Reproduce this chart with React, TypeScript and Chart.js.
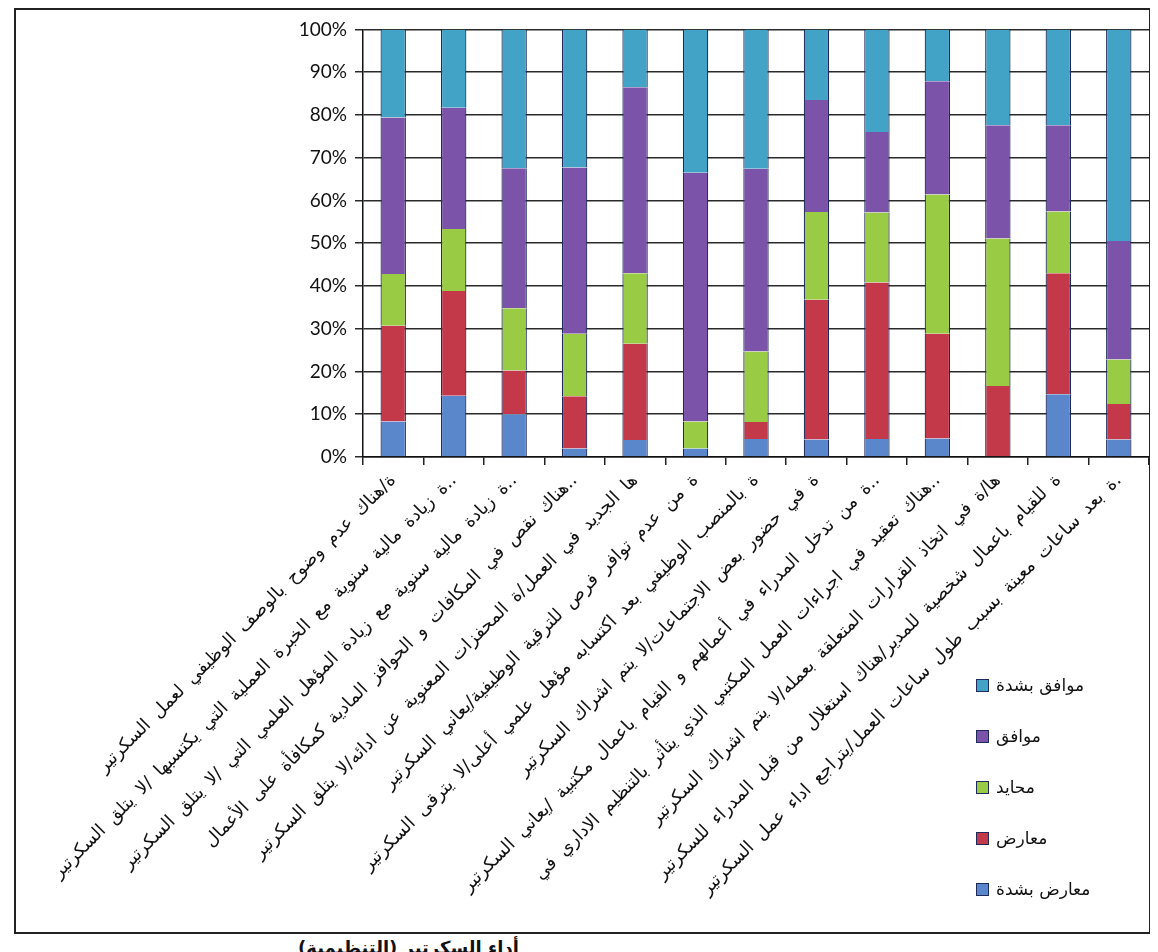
import React, { useEffect, useRef } from "react";
import { Chart, registerables } from "chart.js";

Chart.register(...registerables);

const categories: string[] = [
  "ة/هناك عدم وضوح بالوصف الوظيفي لعمل السكرتير",
  "..ة زيادة مالية سنوية مع الخبرة العملية التي يكتسبها /لا يتلق السكرتير",
  "..ة زيادة مالية سنوية مع زيادة المؤهل العلمي التي /لا يتلق السكرتير",
  "..هناك نقص في المكافات و الحوافز المادية كمكافأة على الأعمال",
  "ها الجديد في العمل/ة المحفزات المعنوية عن ادائه/لا يتلق السكرتير",
  "ة من عدم توافر فرص للترقية الوظيفية/يعاني السكرتير",
  "ة بالمنصب الوظيفي بعد اكتسابه مؤهل علمي أعلى/لا يترقى السكرتير",
  "ة في حضور بعض الاجتماعات/لا يتم اشراك السكرتير",
  "..ة من تدخل المدراء في أعمالهم و القيام باعمال مكتبية /يعاني السكرتير",
  "..هناك تعقيد في اجراءات العمل المكتبي الذي يتأثر بالتنظيم الاداري في",
  "ها/ة في اتخاذ القرارات المتعلقة بعمله/لا يتم اشراك السكرتير",
  "ة للقيام باعمال شخصية للمدير/هناك استغلال من قبل المدراء للسكرتير",
  ".ة بعد ساعات معينة بسبب طول ساعات العمل/يتراجع اداء عمل السكرتير",
];

const stronglyDisagree = [8.3, 14.3, 10, 2, 4, 2, 4.2, 4.1, 4.2, 4.3, 0, 14.7, 4.1];
const disagree = [22.4, 24.5, 10.2, 12.2, 22.5, 0, 4, 32.7, 36.6, 24.5, 16.6, 28.3, 8.3];
const neutral = [12.1, 14.5, 14.6, 14.6, 16.5, 6.3, 16.5, 20.5, 16.4, 32.6, 34.5, 14.4, 10.4];
const agree = [36.6, 28.4, 32.7, 38.9, 43.5, 58.2, 42.7, 26.2, 18.8, 26.5, 26.5, 20.2, 27.7];
const stronglyAgree = [20.6, 18.3, 32.5, 32.3, 13.5, 33.5, 32.6, 16.5, 24, 12.1, 22.4, 22.4, 49.5];

const seriesNames = ["معارض بشدة", "معارض", "محايد", "موافق", "موافق بشدة"];
const seriesColors = ["#5A86CC", "#C4394A", "#9ACB45", "#7B53A8", "#42A3C6"];
const yTickValues = [0, 10, 20, 30, 40, 50, 60, 70, 80, 90, 100];
const caption = "أداء السكرتير (التنظيمية)";

const rtlText = {
  id: "rtlText",
  beforeDraw(chart: any) {
    chart.ctx.direction = "rtl";
    chart.ctx.wordSpacing = "4px";
  },
};

export default function App() {
  const ref = useRef<HTMLCanvasElement>(null);

  useEffect(() => {
    const seriesData = [stronglyDisagree, disagree, neutral, agree, stronglyAgree];
    const chart = new Chart(ref.current as HTMLCanvasElement, {
      type: "bar",
      data: {
        labels: categories,
        datasets: seriesData.map((d, i) => ({
          label: seriesNames[i],
          data: d,
          backgroundColor: seriesColors[i],
          borderColor: "#1e2a5c",
          borderWidth: { left: 1.2, right: 1.2, top: 0, bottom: 0 },
          borderSkipped: false,
          barPercentage: 0.42,
          categoryPercentage: 1,
        })),
      },
      options: {
        responsive: false,
        animation: false,
        layout: { padding: { top: 14, left: 0, right: 0, bottom: 0 } },
        plugins: {
          legend: { display: false },
          tooltip: { enabled: false },
        },
        scales: {
          x: {
            stacked: true,
            offset: true,
            afterFit: (s: any) => {
              s.height = 475;
            },
            grid: {
              display: true,
              drawOnChartArea: false,
              drawTicks: true,
              tickLength: 8,
              offset: true,
              color: "#222",
              lineWidth: 1.5,
            },
            border: { display: true, color: "#111", width: 1.5 },
            ticks: {
              autoSkip: false,
              maxRotation: 45,
              minRotation: 45,
              padding: 5,
              color: "#111",
              font: { family: "'DejaVu Sans', sans-serif", size: 18 },
            },
          },
          y: {
            stacked: true,
            min: 0,
            max: 100,
            afterFit: (s: any) => {
              s.width = 347;
            },
            afterBuildTicks: (s: any) => {
              s.ticks = yTickValues.map((v) => ({ value: v }));
            },
            grid: {
              color: "#2a2a2a",
              lineWidth: 1.5,
              drawTicks: true,
              tickLength: 8,
            },
            border: { display: true, color: "#111", width: 1.5 },
            ticks: {
              padding: 8,
              color: "#111",
              font: { family: "Lato, 'Open Sans', sans-serif", size: 19 },
              callback: (v: any) => v + "%",
            },
          },
        },
      },
      plugins: [rtlText],
    });
    return () => chart.destroy();
  }, []);

  const legendItems = [4, 3, 2, 1, 0];

  return (
    <div style={{ position: "relative", width: 1142, height: 944, overflow: "hidden" }}>
      <div
        style={{
          position: "absolute",
          left: 6,
          top: 0,
          width: 1133,
          height: 922,
          border: "2px solid #222",
          background: "#fff",
        }}
      >
        <canvas ref={ref} width={1133} height={922} style={{ display: "block" }} />
      </div>
      {legendItems.map((idx, i) => (
        <div
          key={idx}
          style={{
            position: "absolute",
            left: 968,
            top: 664 + i * 51,
            height: 26,
            display: "flex",
            alignItems: "center",
            gap: 7,
            fontFamily: "'DejaVu Sans', sans-serif",
            fontSize: 17,
            color: "#111",
          }}
        >
          <span
            style={{
              display: "inline-block",
              width: 11,
              height: 11,
              background: seriesColors[idx],
              border: "1.5px solid #1e2a5c",
            }}
          />
          <span>{seriesNames[idx]}</span>
        </div>
      ))}
      <div
        dir="rtl"
        style={{
          position: "absolute",
          left: 290,
          top: 929,
          fontFamily: "'DejaVu Sans', sans-serif",
          fontWeight: "bold",
          fontSize: 18,
          color: "#111",
          whiteSpace: "nowrap",
        }}
      >
        {caption}
      </div>
    </div>
  );
}
